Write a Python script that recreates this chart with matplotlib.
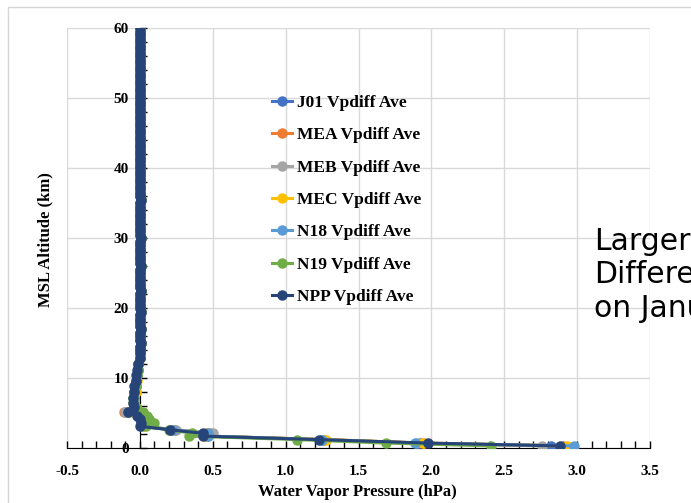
import matplotlib
matplotlib.use("Agg")
import matplotlib.pyplot as plt
from matplotlib.patches import Rectangle
from matplotlib.ticker import MultipleLocator

# altitude levels (km) for the lower troposphere, per-series values below
alt_low = [0.3, 0.7, 1.2, 1.7, 2.1, 2.6, 3.1, 3.6, 4.1, 4.6, 5.2, 5.8, 6.5,
           7.2, 8.0, 8.8, 9.6, 10.4, 11.2, 12.0, 12.8, 13.6]

j01 = [2.82, 1.92, 1.25, 0.45, 0.46, 0.22, 0.01, 0.03, 0.02, 0.00, -0.09, -0.04, -0.04,
       -0.04, -0.04, -0.03, -0.03, -0.02, -0.01, -0.01, 0.00, 0.00]
mea = [2.90, 1.95, 1.26, 0.46, 0.48, 0.24, 0.02, 0.05, 0.03, 0.01, -0.11, -0.04, -0.04,
       -0.04, -0.03, -0.03, -0.03, -0.02, -0.01, -0.01, 0.00, 0.00]
meb = [2.76, 1.90, 1.24, 0.47, 0.50, 0.25, 0.01, 0.05, 0.03, 0.02, -0.10, -0.04, -0.04,
       -0.04, -0.04, -0.03, -0.03, -0.02, -0.01, -0.01, 0.00, 0.00]
mec = [2.93, 1.94, 1.28, 0.44, 0.46, 0.22, 0.02, 0.07, 0.04, 0.02, -0.07, -0.03, -0.04,
       -0.04, -0.03, -0.03, -0.02, -0.02, -0.01, -0.01, 0.00, 0.00]
n18 = [2.98, 1.89, 1.25, 0.47, 0.47, 0.23, 0.01, 0.04, 0.03, 0.01, -0.08, -0.04, -0.04,
       -0.04, -0.04, -0.03, -0.03, -0.02, -0.01, -0.01, 0.00, 0.00]
n19 = [2.41, 1.69, 1.08, 0.34, 0.36, 0.20, 0.04, 0.10, 0.06, 0.05, 0.02, -0.03, -0.05,
       -0.05, -0.04, -0.03, -0.03, -0.02, -0.01, -0.01, 0.00, 0.00]
npp = [2.88, 1.98, 1.23, 0.43, 0.43, 0.21, 0.00, 0.01, 0.00, -0.02, -0.08, -0.04, -0.05,
       -0.05, -0.04, -0.04, -0.03, -0.03, -0.02, -0.01, 0.00, 0.00]

# upper levels, all satellites are ~0 here
alt_up = [14, 14.5, 15, 15.5, 16, 16.5, 17, 17.5, 18, 18.5, 19, 19.5, 20, 20.5, 21, 21.5,
          22, 22.5, 23, 23.5, 24, 24.5, 25, 25.5, 26, 26.5, 27, 27.5, 28, 28.5, 29, 29.5,
          30, 30.5, 31, 31.5, 32, 32.5, 33, 33.5, 34, 34.5, 35, 35.5, 36, 36.5, 37, 37.5,
          38, 38.5, 39, 39.5, 40, 40.5, 41, 41.5, 42, 42.5, 43, 43.5, 44, 44.5, 45, 45.5,
          46, 46.5, 47, 47.5, 48, 48.5, 49, 49.5, 50, 50.5, 51, 51.5, 52, 52.5, 53, 53.5,
          54, 54.5, 55, 55.5, 56, 56.5, 57, 57.5, 58, 58.5, 59, 59.5, 60]
val_up = [0.00, 0.00, 0.01, 0.00, 0.00, 0.00, 0.01, 0.00, 0.00, 0.00, 0.00, 0.01,
          0.00, 0.00, 0.00, 0.00, 0.00, 0.01, 0.00, 0.00, 0.00, 0.00, 0.00, 0.00,
          0.01, 0.00, 0.00, 0.00, 0.00, 0.00, 0.00, 0.00, 0.01, 0.00, 0.00, 0.00,
          0.00, 0.00, 0.00, 0.00, 0.00, 0.00, 0.00, 0.01, 0.00, 0.00, 0.00, 0.00,
          0.00, 0.00, 0.00, 0.00, 0.00, 0.00, 0.00, 0.00, 0.00, 0.00, 0.00, 0.00,
          0.00, 0.00, 0.00, 0.00, 0.00, 0.00, 0.00, 0.00, 0.00, 0.00, 0.00, 0.00,
          0.00, 0.00, 0.00, 0.00, 0.00, 0.00, 0.00, 0.00, 0.00, 0.00, 0.00, 0.00,
          0.00, 0.00, 0.00, 0.00, 0.00, 0.00, 0.00, 0.00, 0.00]

names = ["J01 Vpdiff Ave", "MEA Vpdiff Ave", "MEB Vpdiff Ave", "MEC Vpdiff Ave",
         "N18 Vpdiff Ave", "N19 Vpdiff Ave", "NPP Vpdiff Ave"]
series = [j01, mea, meb, mec, n18, n19, npp]
colors = ["#4472C4", "#ED7D31", "#A5A5A5", "#FFC000", "#5B9BD5", "#70AD47", "#264478"]

serif = {"family": "Liberation Serif", "weight": "bold", "size": 11}
title_font = {"family": "Liberation Serif", "weight": "bold", "size": 12}

fig = plt.figure(figsize=(6.91, 5.03), dpi=100)
ax = fig.add_axes([67 / 691, 1 - 448 / 503, (650 - 67) / 691, (448 - 28) / 503])

fig.add_artist(Rectangle((8 / 691, -0.1), 1.0, 1.1 - 7 / 503, transform=fig.transFigure,
                         fill=False, edgecolor="#d6d6d6", lw=1.0))

for name, vals, c in zip(names, series, colors):
    ax.plot(vals + val_up, alt_low + alt_up, "-o", color=c, lw=2.2, ms=6.5, label=name,
            zorder=3)

ax.set_xlim(-0.5, 3.5)
ax.set_ylim(0, 60)
ax.xaxis.set_major_locator(MultipleLocator(0.5))
ax.xaxis.set_minor_locator(MultipleLocator(0.1))
ax.yaxis.set_major_locator(MultipleLocator(10))
ax.yaxis.set_minor_locator(MultipleLocator(2))
ax.grid(True, which="major", color="#d9d9d9", lw=1.0, zorder=0)
ax.set_axisbelow(True)

for s in ["top", "right"]:
    ax.spines[s].set_visible(False)
ax.spines["left"].set_position(("data", 0))
ax.spines["left"].set_zorder(2)
ax.tick_params(which="both", direction="in", length=5, width=1, color="black")
ax.tick_params(axis="x", pad=12)
ax.tick_params(axis="y", pad=8)

ax.set_xticks([-0.5, 0, 0.5, 1, 1.5, 2, 2.5, 3, 3.5])
ax.set_xticklabels(["-0.5", "0.0", "0.5", "1.0", "1.5", "2.0", "2.5", "3.0", "3.5"],
                   fontdict=serif)
ax.set_yticks([0, 10, 20, 30, 40, 50, 60])
ax.set_yticklabels(["0", "10", "20", "30", "40", "50", "60"], fontdict=serif)

fig.text(357 / 691, 1 - 492 / 503, "Water Vapor Pressure (hPa)", ha="center", va="center",
         fontdict=title_font)
fig.text(45 / 691, 1 - 240 / 503, "MSL Altitude (km)", ha="center", va="center",
         rotation=90, fontdict=title_font)

ax.legend(loc="upper left", bbox_to_anchor=(272 / 691, 1 - 95 / 503),
          bbox_transform=fig.transFigure, frameon=False, borderpad=0, borderaxespad=0,
          handlelength=1.15, handletextpad=0.28, labelspacing=0.93,
          prop={"family": "Liberation Serif", "weight": "bold", "size": 12.5})

fig.text(594 / 691, 1 - 317 / 503, "Larger\nDifferences\non January", ha="left",
         va="baseline", fontsize=21.5, family="DejaVu Sans", linespacing=1.2)

fig.savefig("out.png", dpi=100)
